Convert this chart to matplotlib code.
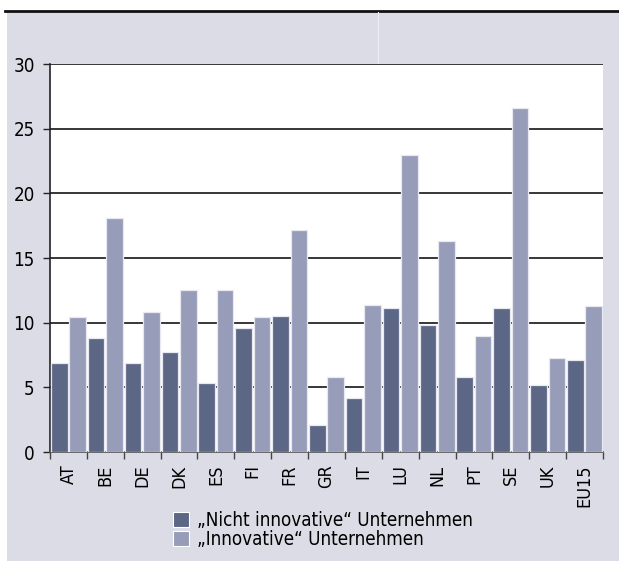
import matplotlib
matplotlib.use("Agg")
import matplotlib.pyplot as plt
from matplotlib.patches import Rectangle, Patch
from matplotlib.lines import Line2D
import numpy as np

categories = ["AT", "BE", "DE", "DK", "ES", "FI", "FR", "GR", "IT", "LU", "NL", "PT", "SE", "UK", "EU15"]
nicht_innovativ = [6.9, 8.8, 6.9, 7.7, 5.3, 9.6, 10.5, 2.1, 4.2, 11.1, 9.8, 5.8, 11.1, 5.2, 7.1]
innovativ = [10.4, 18.1, 10.8, 12.5, 12.5, 10.4, 17.2, 5.8, 11.4, 23.0, 16.3, 9.0, 26.6, 7.3, 11.3]
series_labels = ["\u201eNicht innovative\u201c Unternehmen", "\u201eInnovative\u201c Unternehmen"]
yticks = [0, 5, 10, 15, 20, 25, 30]

plt.rcParams['font.family'] = ['DejaVu Sans']
plt.rcParams['font.stretch'] = 'condensed'

W, H = 619, 562
fig = plt.figure(figsize=(W / 100, H / 100), dpi=100)
fig.patch.set_facecolor("white")

bg = "#DCDCE6"
dark = "#5C6786"
light = "#979CB8"

# background panel
fig.patches.append(Rectangle((7 / W, 1 - 561 / H), (W - 7) / W, (561 - 11) / H,
                             transform=fig.transFigure, facecolor=bg, edgecolor="none", zorder=-5))
# top black rule
fig.add_artist(Line2D([5 / W, 1], [1 - 10.5 / H, 1 - 10.5 / H], transform=fig.transFigure,
                      color="#111111", lw=2, zorder=-4))
# faint divider line at top
fig.add_artist(Line2D([378 / W, 378 / W], [1 - 12 / H, 1 - 63 / H], transform=fig.transFigure,
                      color="#EEEEF3", lw=0.8, zorder=-4))

ax = fig.add_axes([50 / W, 1 - 452 / H, (603 - 50) / W, (452 - 64) / H])
ax.set_zorder(2)
ax.set_facecolor("white")

x = np.arange(len(categories))
w = 0.45
ax.bar(x - 0.25, nicht_innovativ, width=w, color=dark, edgecolor="#E8E8F0", linewidth=0.9, zorder=3)
ax.bar(x + 0.25, innovativ, width=w, color=light, edgecolor="#E8E8F0", linewidth=0.9, zorder=3)

ax.set_xlim(-0.5, len(categories) - 0.5)
ax.set_ylim(0, 30)
ax.set_yticks(yticks)
ax.set_yticklabels([str(v) for v in yticks], fontsize=13.5)
for v in yticks[1:]:
    ax.axhline(v, color="black", lw=1.1, zorder=1)

ax.set_xticks(np.arange(len(categories) + 1) - 0.5)
ax.set_xticklabels([])
ax.set_xticks(x, minor=True)
ax.set_xticklabels(categories, minor=True, rotation=90, fontsize=13, va="top", ha="center")
ax.tick_params(axis="x", which="minor", length=0, pad=9)
ax.tick_params(axis="x", which="major", length=5, width=1, color="#444444", direction="out")
ax.tick_params(axis="y", length=5, width=1, color="#222222", direction="out", pad=6)

for s in ["top", "right"]:
    ax.spines[s].set_visible(False)
ax.spines["left"].set_color("#222222")
ax.spines["left"].set_linewidth(1.2)
ax.spines["bottom"].set_color("#555555")
ax.spines["bottom"].set_linewidth(1.2)

handles = [Patch(facecolor=dark, edgecolor="white", lw=0.8),
           Patch(facecolor=light, edgecolor="white", lw=0.8)]
leg = fig.legend(handles, series_labels, loc="upper left",
                 bbox_to_anchor=(173 / W, 1 - 511 / H), frameon=False, fontsize=13.5,
                 handlelength=0.85, handleheight=0.85, handletextpad=0.45, labelspacing=0.0,
                 borderaxespad=0, borderpad=0)

fig.savefig("out.png", dpi=100, facecolor="white")
